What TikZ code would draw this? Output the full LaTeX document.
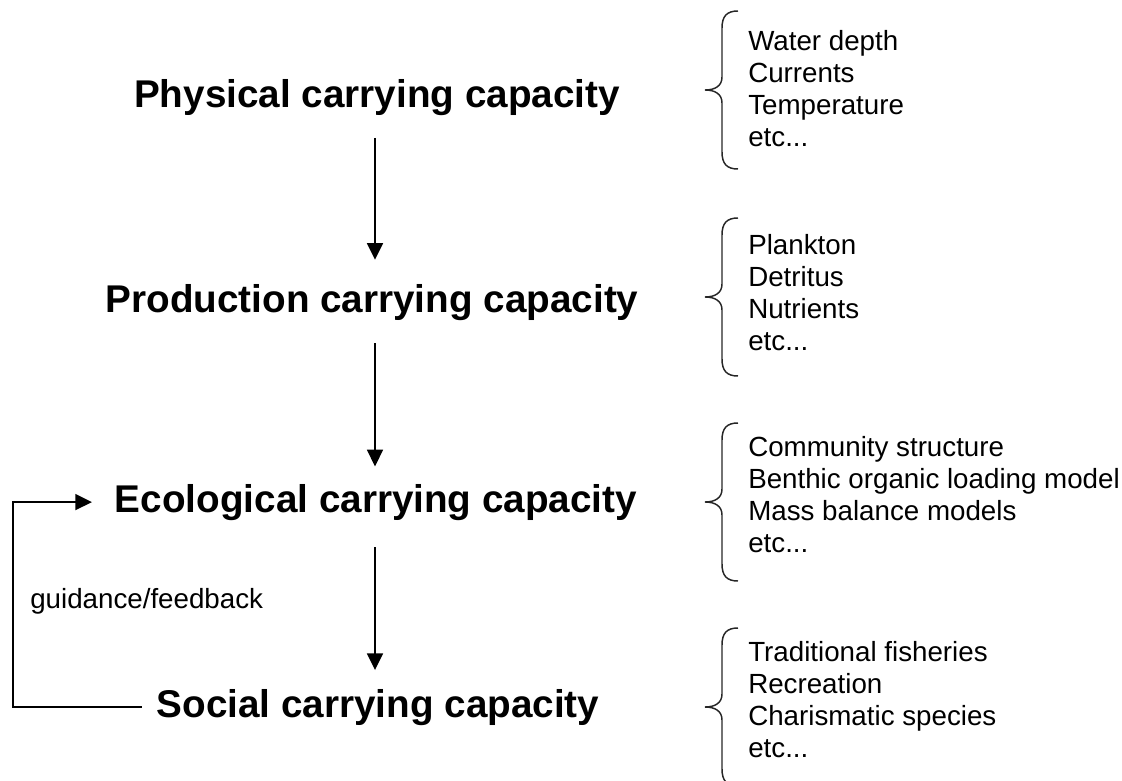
\documentclass[tikz,border=0pt]{standalone}
\usepackage{fontspec}
\setmainfont{Liberation Sans}
\usetikzlibrary{arrows.meta,calc}
\begin{document}
\begin{tikzpicture}[x=0.75pt,y=-0.75pt,
  title/.style={inner sep=0pt,anchor=base,font=\fontsize{29}{34}\selectfont\bfseries},
  items/.style={inner sep=0pt,anchor=west,align=left,font=\fontsize{20.8}{24}\selectfont},
  note/.style={inner sep=0pt,anchor=base west,font=\fontsize{20.8}{24}\selectfont},
  arr/.style={line width=1.3pt,-{Triangle[length=12.5pt,width=12pt]}},
  bracestyle/.style={line width=1.1pt,black!85},
  curlybrace/.pic={\draw[bracestyle] (33,-79) .. controls (22,-79) and (17,-74) .. (17,-62) -- (17,-13) .. controls (17,-4) and (10,0) .. (0,0) .. controls (10,0) and (17,4) .. (17,13) -- (17,62) .. controls (17,74) and (22,79) .. (33,79);}]
\useasboundingbox (0,0) rectangle (1122,781);

\node[title] (phys) at (377,108) {Physical carrying capacity};
\node[title] (prod) at (372,312) {Production carrying capacity};
\node[title] (eco)  at (376,512) {Ecological carrying capacity};
\node[title] (soc)  at (378,717) {Social carrying capacity};

\coordinate (ax) at (375,0);
\coordinate (fbx) at (13,0);

\draw[arr,shorten <=16pt,shorten >=18pt] (phys.south -| ax) -- (prod.north -| ax);
\draw[arr,shorten <=17pt,shorten >=13pt] (prod.south -| ax) -- (eco.north -| ax);
\draw[arr,shorten <=20pt,shorten >=14pt] (eco.south -| ax) -- (soc.north -| ax);

\draw[arr] ([xshift=-11pt]soc.west) -- (soc.west -| fbx) |- ([xshift=-17pt]eco.west);
\node[note] (fb) at (30,608) {guidance/feedback};

\pic at (705,90) {curlybrace};
\pic at (705,297) {curlybrace};
\pic at (705,502) {curlybrace};
\pic at (705,707) {curlybrace};

\node[items] (l1) at (748,88.5) {Water depth\\Currents\\Temperature\\etc...};
\node[items] (l2) at (748,292.5) {Plankton\\Detritus\\Nutrients\\etc...};
\node[items] (l3) at (748,495) {Community structure\\Benthic organic loading model\\Mass balance models\\etc...};
\node[items] (l4) at (748,700) {Traditional fisheries\\Recreation\\Charismatic species\\etc...};
\end{tikzpicture}
\end{document}
